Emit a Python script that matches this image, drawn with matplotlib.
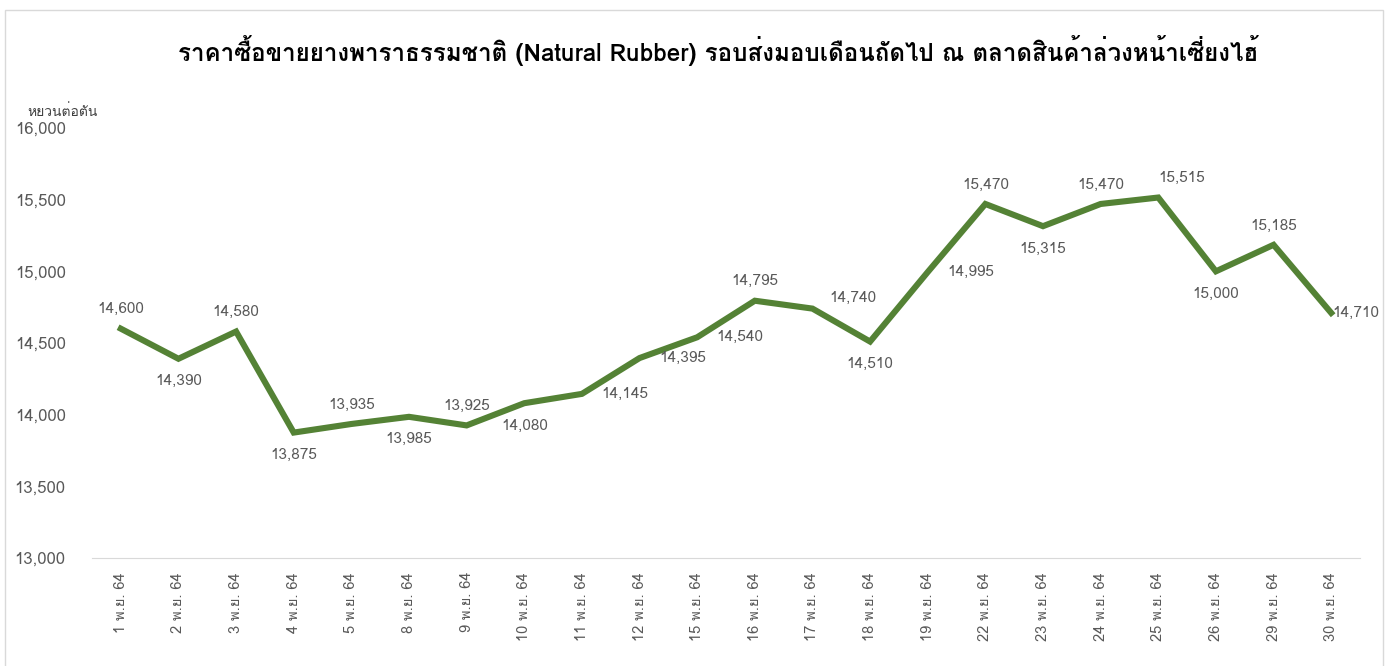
import matplotlib
matplotlib.use("Agg")
import matplotlib.pyplot as plt
from matplotlib import font_manager
from matplotlib.ft2font import FT2Font
from matplotlib.patches import Rectangle
from matplotlib.ticker import FuncFormatter

# pick an installed font that has Thai glyphs
thai_font = None
for path in sorted(font_manager.findSystemFonts()):
    try:
        if 0x0E01 in FT2Font(path).get_charmap():
            thai_font = font_manager.FontProperties(fname=path).get_name()
            break
    except Exception:
        pass
families = ([thai_font] if thai_font else []) + ['DejaVu Sans']
plt.rcParams['font.family'] = families

title = "ราคาซื้อขายยางพาราธรรมชาติ (Natural Rubber) รอบส่งมอบเดือนถัดไป ณ ตลาดสินค้าล่วงหน้าเซี่ยงไฮ้"
unit = "หยวนต่อตัน"

days = [1, 2, 3, 4, 5, 8, 9, 10, 11, 12, 15, 16, 17, 18, 19, 22, 23, 24, 25, 26, 29, 30]
dates = [f"{d} พ.ย. 64" for d in days]
prices = [14600, 14390, 14580, 13875, 13935, 13985, 13925, 14080, 14145, 14395, 14540,
          14795, 14740, 14510, 14995, 15470, 15315, 15470, 15515, 15000, 15185, 14710]

# label placement for each point: (dx, dy) in points
placement = [(0, 14), (0, -16), (0, 14), (0, -16), (0, 14), (0, -16), (0, 14), (0, -16),
             (31, 0), (31, 0), (31, 0), (0, 14), (29, 8), (0, -16), (31, 0), (0, 14),
             (0, -16), (0, 14), (17, 14), (0, -16), (0, 14), (18, 0)]

green = '#548235'
grey = '#595959'

fig = plt.figure(figsize=(13.95, 6.66), dpi=100)
fig.patches.append(Rectangle((5 / 1395, -0.01), 1378 / 1395, 1 - 10 / 666 + 0.01,
                             transform=fig.transFigure, fill=False,
                             edgecolor='#d9d9d9', linewidth=1))

ax = fig.add_axes([92 / 1395, 1 - 558 / 666, (1360 - 92) / 1395, (558 - 128) / 666])
x = list(range(len(prices)))
ax.plot(x, prices, color=green, linewidth=4.4, solid_joinstyle='miter')

for xi, v, (dx, dy) in zip(x, prices, placement):
    ax.annotate(f"{v:,}", (xi, v), xytext=(dx, dy), textcoords='offset points',
                ha='center', va='center', fontsize=11, color=grey)

ax.set_xlim(-0.5, len(prices) - 0.5)
ax.set_ylim(13000, 16000)
ax.set_yticks(range(13000, 16001, 500))
ax.yaxis.set_major_formatter(FuncFormatter(lambda v, p: f"{int(v):,}"))
ax.set_xticks(x)
ax.set_xticklabels(dates, rotation=90)
ax.tick_params(axis='y', length=0, labelsize=12, labelcolor=grey, pad=19)
ax.tick_params(axis='x', length=0, labelsize=10.5, labelcolor=grey, pad=10)
for s in ['top', 'right', 'left']:
    ax.spines[s].set_visible(False)
ax.spines['bottom'].set_color('#d9d9d9')

fig.text(718 / 1395, 1 - 50 / 666, title, ha='center', va='center',
         fontsize=17.4, fontweight='bold', color='black')
fig.text(27 / 1395, 1 - 112 / 666, unit, ha='left', va='center',
         fontsize=10, color='#404040')

fig.savefig("out.png", dpi=100)
